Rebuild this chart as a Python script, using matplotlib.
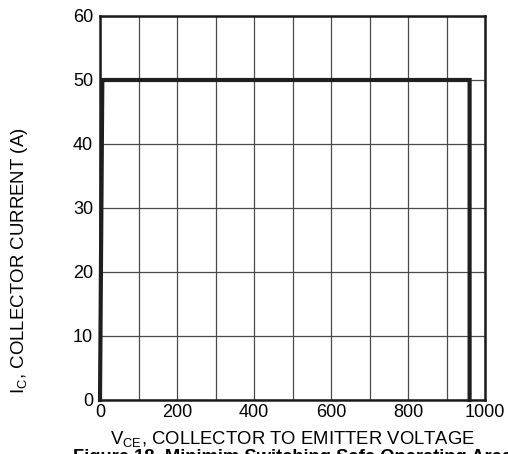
import matplotlib
matplotlib.use("Agg")
import matplotlib.pyplot as plt

plt.rcParams['font.family'] = ['Liberation Sans', 'DejaVu Sans']

vce = [0, 6, 960, 960]
ic = [0, 50, 50, 0]
xticks = [0, 200, 400, 600, 800, 1000]
yticks = [0, 10, 20, 30, 40, 50, 60]

W, H = 508, 454
fig = plt.figure(figsize=(W/100, H/100), dpi=100)
ax = fig.add_axes([100/W, 1-400/H, 385/W, 384/H])
ax.set_xlim(0, 1000)
ax.set_ylim(0, 60)
ax.set_xticks(xticks)
ax.set_xticks(range(100, 1000, 200), minor=True)
ax.set_yticks(yticks)
ax.grid(True, which='both', color='#4a4a4a', linewidth=0.9)
ax.tick_params(which='both', length=0, labelsize=13, colors='black')
ax.tick_params(axis='x', pad=3)
ax.tick_params(axis='y', pad=5)
for s in ax.spines.values():
    s.set_linewidth(1.8)
    s.set_color('#1a1a1a')
ax.plot(vce, ic, color='#1f1f1f', linewidth=3, solid_joinstyle='miter', clip_on=False, zorder=5)
ax.set_xlabel('V$_{\\mathregular{CE}}$, COLLECTOR TO EMITTER VOLTAGE', fontsize=13.3, labelpad=5.5)
fig.text(20/W, 1-261/H, 'I$_{\\mathregular{C}}$, COLLECTOR CURRENT (A)', fontsize=13.4,
         rotation=90, ha='center', va='center')
fig.text(73/W, 1-462/H, 'Figure 18. Minimim Switching Safe Operating Area', fontsize=13.2,
         fontweight='bold', ha='left', va='baseline')
fig.savefig('out.png', dpi=100)
